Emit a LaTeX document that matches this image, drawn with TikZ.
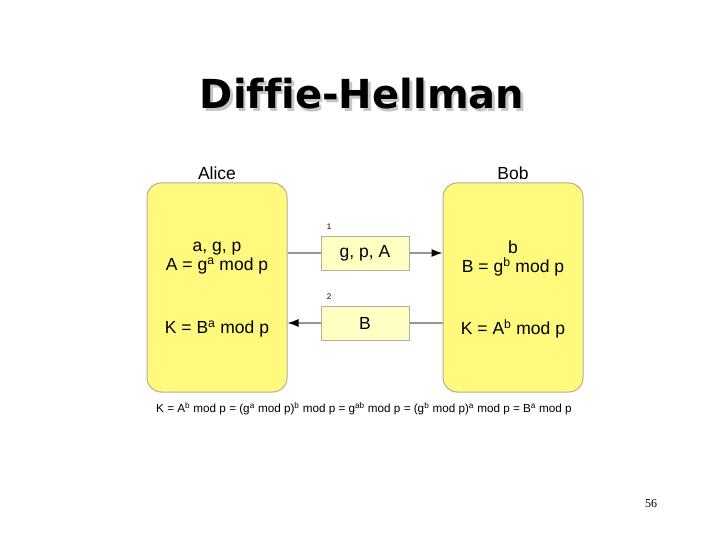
\documentclass[tikz,border=0pt]{standalone}
\usepackage{fontspec}
\setmainfont{Liberation Sans}
\newfontfamily\titlefont[Ligatures=NoCommon]{DejaVu Sans}
\newfontfamily\pagefont{Liberation Serif}
\usepackage{tikz}
\usetikzlibrary{shapes.geometric, arrows.meta}
\definecolor{partyYellow}{RGB}{255,250,125}
\definecolor{msgYellow}{RGB}{255,255,195}
\definecolor{edgeGray}{RGB}{175,175,155}
\definecolor{lineGray}{RGB}{150,150,150}
\tikzstyle{arrow} = [draw=lineGray, line width=1.3pt, -{Latex[length=11pt,width=8pt,color=black]}]
\tikzstyle{link} = [draw=lineGray, line width=1.3pt]
\tikzstyle{party} = [rectangle, rounded corners=14pt, minimum width=140pt, minimum height=209pt, fill=partyYellow, draw=edgeGray, line width=1pt]
\tikzstyle{msg} = [rectangle, minimum width=88pt, minimum height=34pt, fill=msgYellow, draw=edgeGray, line width=1pt, text centered, font=\fontsize{17.5}{20}\selectfont]
\tikzstyle{txt} = [align=center, font=\fontsize{17.5}{19}\selectfont]
\tikzstyle{num} = [font=\fontsize{8}{10}\selectfont]
\newcommand{\shadowtitle}[1]{\rlap{\hspace{2.5pt}\raisebox{-2.5pt}{\color{gray!45}#1}}#1}

\begin{document}
\begin{tikzpicture}[x=1pt, y=-1pt]
		\useasboundingbox (0,0) rectangle (720,540);
		\node (title) at (362,95) {\titlefont\bfseries\fontsize{40}{46}\selectfont\shadowtitle{Diffie-Hellman}};
		\node (alice) [party] at (217,287.5) {};
		\node (bob) [party] at (513,287.5) {};
		\node (aliceName) [txt] at (217,173) {Alice};
		\node (bobName) [txt] at (513,173) {Bob};
		\node (aliceKeys) [txt] at (217,258.5) {a, g, p\\A = g\textsuperscript{a} mod p};
		\node (aliceSecret) [txt] at (217,329) {K = B\textsuperscript{a} mod p};
		\node (bobKeys) [txt] at (513,258.5) {b\\B = g\textsuperscript{b} mod p};
		\node (bobSecret) [txt] at (513,329) {K = A\textsuperscript{b} mod p};
		\node (msgOne) [msg] at (365,253) {g, p, A};
		\node (msgTwo) [msg] at (365,323) {B};
		\node (numOne) [num] at (329,227) {1};
		\node (numTwo) [num] at (329,297) {2};
		\node (keyEquation) at (364,409) {\fontsize{11.7}{13}\selectfont K = A\textsuperscript{b} mod p = (g\textsuperscript{a} mod p)\textsuperscript{b} mod p = g\textsuperscript{ab} mod p = (g\textsuperscript{b} mod p)\textsuperscript{a} mod p = B\textsuperscript{a} mod p};
		\node (pageNum) at (651,504) {\pagefont\fontsize{12}{14}\selectfont 56};
		\draw [link] (alice.east |- msgOne) -- (msgOne.west);
		\draw [arrow] (msgOne.east) -- (bob.west |- msgOne);
		\draw [link] (bob.west |- msgTwo) -- (msgTwo.east);
		\draw [arrow] (msgTwo.west) -- (alice.east |- msgTwo);
	\end{tikzpicture}
\end{document}
